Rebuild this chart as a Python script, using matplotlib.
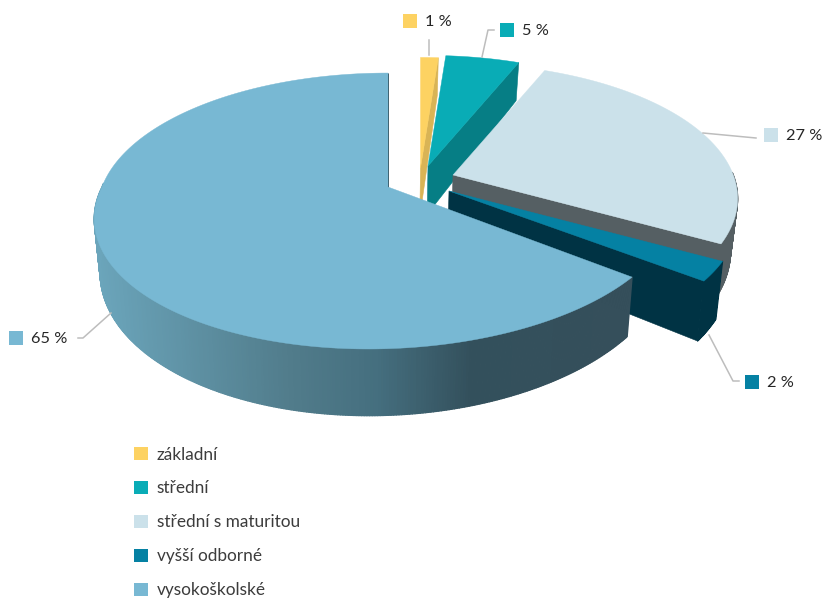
import numpy as np
import matplotlib
matplotlib.use("Agg")
import matplotlib.pyplot as plt
from matplotlib.collections import PolyCollection
from matplotlib.colors import LinearSegmentedColormap, to_rgb
from matplotlib.patches import Patch, Rectangle

# data (the labels show them rounded)
categories = ["základní", "střední", "střední s maturitou", "vyšší odborné", "vysokoškolské"]
values = [1.2, 5.0, 26.8, 2.3, 64.7]

# style
top_colors = ["#fdd262", "#09acb6", "#cbe1ea", "#0581a3", "#78b8d3"]
wall_colors = ["#d9b455", "#067e85", "#555f63", "#003344", None]
main_wall = LinearSegmentedColormap.from_list(
    "mw", [(0.0, "#6ba5bb"), (0.36, "#517c8b"), (0.52, "#456f7f"), (0.70, "#33505c"), (1.0, "#354f5b")])

# layout (pixel space): slice apex, radius scale, front skew
apex = [(420.5, 168), (428, 166), (453, 175), (449, 191), (388, 187)]
scale = [0.97, 0.97, 0.98, 1.0, 1.0]
skew = [0, 0, 0, 0, 0.12]
R, RK, P = 286.0, 133.8, 0.174
LEAN = 0.98
CX = 388
label_pos = [(403, 21), (500, 30), (764, 135), (745, 382), (9, 338)]
leaders = [
    [(429, 55), (429, 40)],
    [(482, 57), (488, 30), (494, 30)],
    [(703, 133), (756, 138)],
    [(709, 335), (733, 381), (739, 381)],
    [(111, 313), (83, 338), (78, 338)],
]


def top_pt(theta, ap, sc, s):
    w = 1 / (1 + P * np.cos(theta))
    dy = -RK * sc * np.cos(theta) * w
    x = ap[0] + R * sc * np.sin(theta) * w - s * np.maximum(dy, 0)
    return x, ap[1] + dy


def lower(x, y):
    return CX + (x - CX) * LEAN, y + 38 + 0.1 * (y - 62)


plt.rcParams["font.family"] = ["Lato", "DejaVu Sans"]
fig = plt.figure(figsize=(8.26, 6.0), dpi=100)
ax = fig.add_axes([0, 0, 1, 1])
ax.set_xlim(0, 826)
ax.set_ylim(600, 0)
ax.axis("off")

edges = np.deg2rad(np.concatenate([[0], np.cumsum(values)]) * 3.6)
for i in range(len(values)):
    th = np.linspace(edges[i], edges[i + 1], max(8, int(values[i] * 8)))
    ap, sc, s = apex[i], scale[i], skew[i]
    xt, yt = top_pt(th, ap, sc, s)
    xb, yb = lower(xt, yt)
    ax_b, ay_b = lower(*ap)
    wc = wall_colors[i] or "#33505c"
    # closing cut wall
    ax.fill([ap[0], xt[-1], xb[-1], ax_b], [ap[1], yt[-1], yb[-1], ay_b],
            color=wc, lw=0.4, zorder=2 * i + 1)
    # outer wall: only the part facing the viewer
    idx = [k for k in range(len(th) - 1) if np.cos(th[k]) < 0.02]
    if idx:
        quads = [[(xt[k], yt[k]), (xt[k + 1], yt[k + 1]), (xb[k + 1], yb[k + 1]), (xb[k], yb[k])] for k in idx]
        if wall_colors[i] is None:
            cols = [main_wall(np.clip((0.5 * (xt[k] + xt[k + 1]) - 94) / 540, 0, 1)) for k in idx]
        else:
            cols = [to_rgb(wc)] * len(quads)
        ax.add_collection(PolyCollection(quads, facecolors=cols, edgecolors=cols, linewidths=0.9, zorder=2 * i + 1))
    # top face
    ax.fill(np.r_[ap[0], xt], np.r_[ap[1], yt], color=top_colors[i], lw=0.3, zorder=2 * i + 2)

# leader lines and value labels
for i, v in enumerate(values):
    pts = np.array(leaders[i])
    ax.plot(pts[:, 0], pts[:, 1], color="#bdbdbd", lw=1.1, zorder=20)
    x, y = label_pos[i]
    ax.add_patch(Rectangle((x, y - 7), 14, 14, color=top_colors[i], lw=0, zorder=21))
    ax.text(x + 22, y + 1, f"{round(v)} %", fontsize=11.8, color="#262626", va="center", ha="left", zorder=21)

# legend
handles = [Patch(facecolor=c, edgecolor="none", label=n) for c, n in zip(top_colors, categories)]
ax.legend(handles=handles, loc="upper left", bbox_to_anchor=(134, 446.5), bbox_transform=ax.transData,
          frameon=False, fontsize=12.4, handlelength=0.81, handleheight=0.81, handletextpad=0.52,
          labelspacing=1.04, borderpad=0, borderaxespad=0, labelcolor="#3c3c3c")

fig.savefig("out.png", dpi=100)
